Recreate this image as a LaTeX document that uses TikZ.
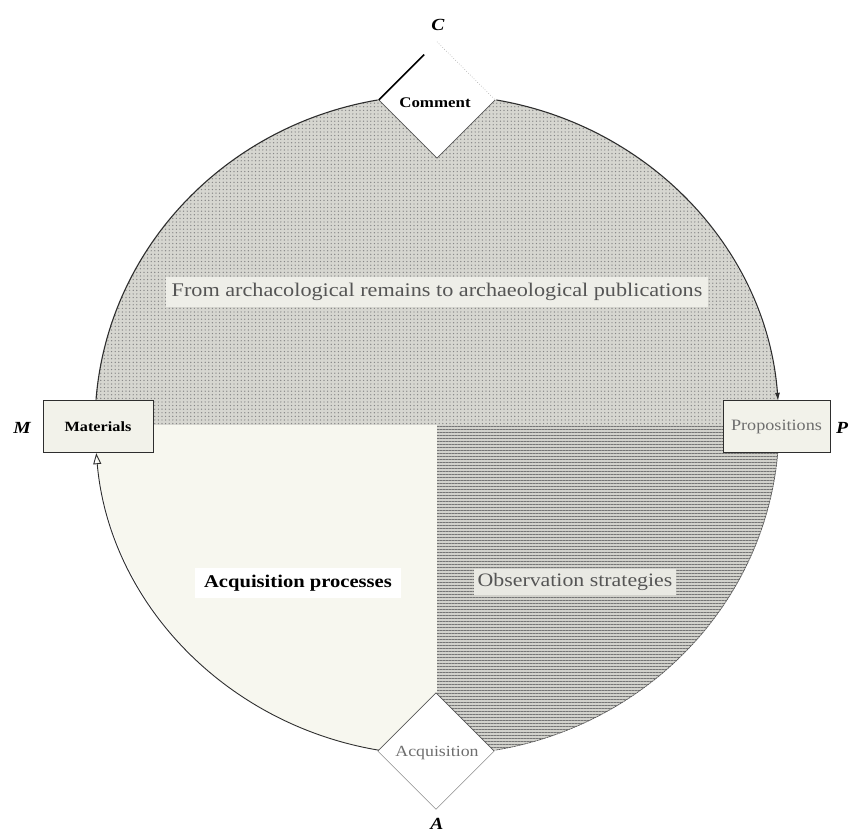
\documentclass[tikz,border=0pt]{standalone}
\usepackage{fontspec}
\setmainfont[FakeStretch=1.15]{Liberation Serif}
\usetikzlibrary{shapes.geometric,patterns.meta,arrows.meta,calc}

\definecolor{dotbase}{HTML}{D6D6D0}
\definecolor{dotink}{HTML}{858585}
\definecolor{hatchbase}{HTML}{D2D2CC}
\definecolor{hatchink}{HTML}{757575}
\definecolor{cream}{HTML}{F7F7EF}
\definecolor{boxfill}{HTML}{F2F2EA}
\definecolor{titlebg}{HTML}{EEEEE8}
\definecolor{obsbg}{HTML}{E9E9E3}
\definecolor{greytext}{HTML}{555555}
\definecolor{paletext}{HTML}{6E6E6E}
\definecolor{rim}{HTML}{2E2E2E}

\begin{document}
\begin{tikzpicture}[x=1pt,y=1pt,
  box/.style={draw=rim, line width=0.9pt, fill=boxfill, minimum height=52pt, inner sep=0pt},
  gate/.style={diamond, aspect=1, minimum width=116pt, minimum height=116pt, inner sep=0pt, fill=white},
  letter/.style={font=\bfseries\itshape\fontsize{17}{17}\selectfont},
  rimline/.style={draw=rim, line width=1.1pt},
  thinrim/.style={draw=rim!80, line width=0.7pt},
]
\useasboundingbox (0,0) rectangle (851,834);
\fill[white] (0,0) rectangle (851,834);
\coordinate (O) at (437,409);

% the three shaded sectors of the disc
\begin{scope}
  \clip (O) ellipse [x radius=342, y radius=330];
  \fill[dotbase] (80,409) rectangle (800,760);
  \fill[pattern={Dots[distance=3.6pt, radius=0.7pt]}, pattern color=dotink] (80,409) rectangle (800,760);
  \fill[cream] (80,409) rectangle (437,60);
  \fill[hatchbase] (437,409) rectangle (800,60);
  \fill[pattern={Lines[angle=0, distance=3pt, line width=0.7pt]}, pattern color=hatchink] (437,409) rectangle (800,60);
\end{scope}

% rim of the disc, as four connecting arcs
\draw[rimline] (O) ++(100:342 and 330) arc[start angle=100, end angle=175.6, x radius=342, y radius=330];
\draw[rimline, -{Latex[length=8pt,width=5pt]}] (O) ++(80:342 and 330) arc[start angle=80, end angle=4.2, x radius=342, y radius=330];
\draw[thinrim, dash pattern=on 2pt off 0.6pt] (O) ++(355.3:342 and 330) arc[start angle=355.3, end angle=280, x radius=342, y radius=330];
\draw[rim, line width=0.9pt, -{Triangle[open, length=11pt, width=8pt]}] (O) ++(262:342 and 330) arc[start angle=262, end angle=184.9, x radius=342, y radius=330];

% gates at top and bottom
\node[gate] (comment) at (437,734) {};
\node[font=\bfseries\fontsize{14.7}{14.7}\selectfont] (commentlabel) at (435,731) {Comment};
\draw[thinrim] (comment.west) -- (comment.south) -- (comment.east);
\draw[draw=rim!45, line width=0.6pt, dotted] (comment.north) -- (comment.east);
\draw[black, line width=1.6pt] (comment.west) -- ($(comment.west)!0.78!(comment.north)$);

\node[gate] (acquisition) at (436,83) {};
\node[text=paletext, font=\fontsize{15.5}{15.5}\selectfont] (acquisitionlabel) at (437,81) {Acquisition};
\draw[thinrim] (acquisition.west) -- (acquisition.north) -- (acquisition.east);
\draw[draw=rim!55, line width=0.6pt] (acquisition.west) -- (acquisition.south) -- (acquisition.east);

% side boxes
\node[box, minimum width=110pt, font=\bfseries\fontsize{14.1}{14.1}\selectfont] (materials) at (98,407.5) {Materials};
\node[box, minimum width=107pt, text=paletext, font=\fontsize{15.8}{15.8}\selectfont] (propositions) at (776.5,407.5) {Propositions};

% corner letters
\node[letter] (M) at (22,406) {M};
\node[letter] (P) at (842,406) {P};
\node[letter] (C) at (438,809) {C};
\node[letter] (A) at (437,10) {A};

% sector captions
\node[fill=titlebg, text=greytext, inner xsep=6pt, inner ysep=6pt, font=\fontsize{19.3}{19.3}\selectfont] (title) at (437,542) {From archacological remains to archaeological publications};
\node[fill=white, inner xsep=9pt, inner ysep=7pt, font=\bfseries\fontsize{17.9}{17.9}\selectfont] (acqproc) at (298,251) {Acquisition processes};
\node[fill=obsbg, text=greytext, inner xsep=4pt, inner ysep=4pt, font=\fontsize{19}{19}\selectfont] (obs) at (575,252) {Observation strategies};
\end{tikzpicture}
\end{document}
